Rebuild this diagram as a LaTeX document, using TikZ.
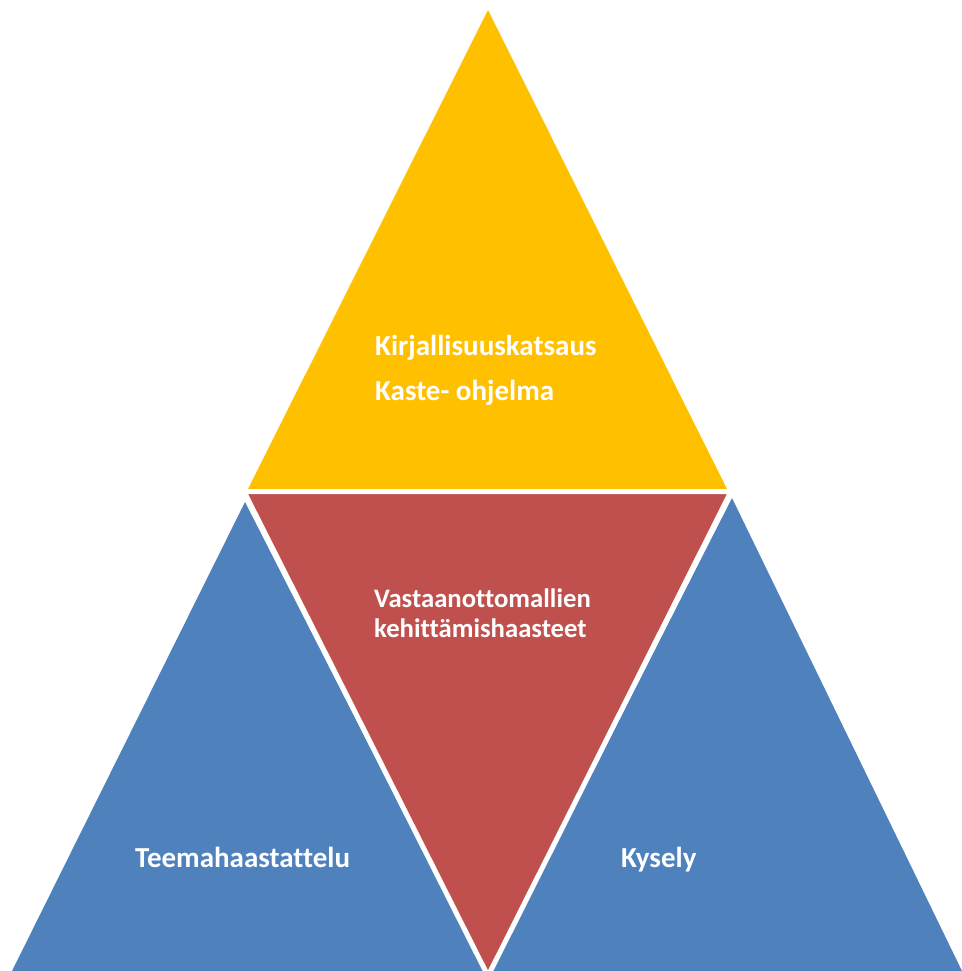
\documentclass[tikz,border=0pt]{standalone}
\usepackage{fontspec}
\setmainfont[Ligatures={NoCommon}]{Carlito}
\definecolor{pyryellow}{HTML}{FFC000}
\definecolor{pyrred}{HTML}{C0504D}
\definecolor{pyrblue}{HTML}{4F81BD}
\begin{document}
\begin{tikzpicture}[x=1pt,y=-1pt,
  lbl/.style={text=white,inner sep=0pt,anchor=base west,font=\bfseries\fontsize{29}{33}\selectfont},
  lblsmall/.style={lbl,font=\bfseries\fontsize{26.7}{30}\selectfont}]
% Triangle of methods: top, two sides and the inverted middle
\useasboundingbox (0,0) rectangle (961,971);
\fill[pyryellow] (488,10) -- (248,489) -- (727,489) -- cycle;
\fill[pyrblue] (245,502) -- (12,971) -- (484,971) -- cycle;
\fill[pyrblue] (732,498) -- (492,971) -- (962,971) -- cycle;
\filldraw[fill=pyrred,draw=white,line width=5pt,line join=miter] (244,491.5) -- (731,491.5) -- (488,976) -- cycle;
\node[lbl] (kirj) at (375,355) {Kirjallisuuskatsaus};
\node[lbl] (kaste) at (375,400) {Kaste- ohjelma};
\node[lblsmall] (vast) at (374,607) {Vastaanottomallien};
\node[lblsmall] (kehit) at (374,637) {kehittämishaasteet};
\node[lbl] (teema) at (135,867) {Teemahaastattelu};
\node[lbl] (kysely) at (621,867) {Kysely};
\end{tikzpicture}
\end{document}
